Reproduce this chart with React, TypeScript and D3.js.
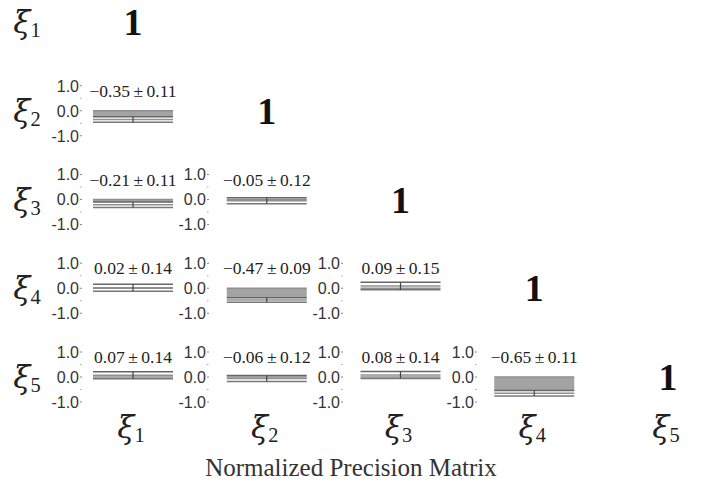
import React from "react";
import * as d3 from "d3";

// ---- data ----
const variableIndex = [1, 2, 3, 4, 5];
const pairRow = [2, 3, 3, 4, 4, 4, 5, 5, 5, 5];
const pairCol = [1, 1, 2, 1, 2, 3, 1, 2, 3, 4];
const pairMean = [-0.35, -0.21, -0.05, 0.02, -0.47, 0.09, 0.07, -0.06, 0.08, -0.65];
const pairStd = [0.11, 0.11, 0.12, 0.14, 0.09, 0.15, 0.14, 0.12, 0.14, 0.11];
const tickValues = [1, 0, -1];
const tickLabels = ["1.0", "0.0", "-1.0"];
const minorTicks = [0.5, -0.5];
const diagonalLabel = "1";
const title = "Normalized Precision Matrix";

// ---- layout ----
const W = 704;
const H = 489;
const colCenter = d3.scaleLinear().domain([1, 5]).range([133, 668]);
const rowZero = d3.scaleLinear().domain([1, 5]).range([22, 377]);
const axisRight = [83, 210, 344, 478];
const barHalf = 40;
const cellHalfH = 25;
const fmt = d3.format(".2f");

function Xi({ x, y, i, size }: { x: number; y: number; i: number; size: number }) {
  return (
    <text x={x} y={y} textAnchor="middle" fill="#222" style={{ fontFamily: "'DejaVu Serif', serif" }}>
      <tspan fontSize={size} fontStyle="italic">ξ</tspan>
      <tspan fontSize={size * 0.66} dy={size * 0.14} style={{ fontFamily: "'Liberation Serif', serif" }}>{i}</tspan>
    </text>
  );
}

export default function App() {
  const cells = pairMean.map((m, k) => {
    const r = pairRow[k];
    const c = pairCol[k];
    const s = pairStd[k];
    const z = rowZero(r);
    const y = d3.scaleLinear().domain([-1, 1]).range([z + cellHalfH, z - cellHalfH]);
    const cx = colCenter(c);
    const x0 = cx - barHalf;
    const x1 = cx + barHalf;
    const hi = m + s;
    const lo = m - s;
    const fillEnd = Math.min(0, hi);
    const ax = axisRight[c - 1];
    return (
      <g key={k}>
        {tickValues.map((t, j) => (
          <g key={j}>
            <text
              x={ax - 4}
              y={y(t)}
              dy="0.36em"
              textAnchor="end"
              fontSize={16}
              fill="#333"
              style={{ fontFamily: "'Liberation Sans', Arial, sans-serif" }}
            >
              {tickLabels[j]}
            </text>
            <line x1={ax - 3} x2={ax - 1} y1={y(t)} y2={y(t)} stroke="#888" strokeWidth={1} />
          </g>
        ))}
        {minorTicks.map((t, j) => (
          <line key={"m" + j} x1={ax - 3} x2={ax - 1.5} y1={y(t)} y2={y(t)} stroke="#aaa" strokeWidth={1} />
        ))}
        {fillEnd < 0 && (
          <rect x={x0} y={y(0)} width={x1 - x0} height={y(fillEnd) - y(0)} fill="#a3a3a3" />
        )}
        <line x1={x0} x2={x1} y1={y(0)} y2={y(0)} stroke="#8f8f8f" strokeWidth={1.3} />
        <line x1={x0} x2={x1} y1={y(hi)} y2={y(hi)} stroke="#666" strokeWidth={1.5} />
        <line x1={x0} x2={x1} y1={y(m)} y2={y(m)} stroke="#909090" strokeWidth={1.3} />
        <line x1={x0} x2={x1} y1={y(lo)} y2={y(lo)} stroke="#777" strokeWidth={1.3} />
        <line x1={cx} x2={cx} y1={y(hi)} y2={y(lo)} stroke="#444" strokeWidth={1.2} />
        <text
          x={cx}
          y={z - 14}
          textAnchor="middle"
          fontSize={17.5}
          fill="#222"
          style={{ fontFamily: "'Liberation Serif', serif" }}
        >
          {fmt(m)}{"\u2009±\u2009"}{fmt(s)}
        </text>
      </g>
    );
  });

  return (
    <svg width={W} height={H} style={{ position: "absolute", left: 0, top: 0, background: "#fff" }}>
      <rect width={W} height={H} fill="#fff" />
      {variableIndex.map((i) => (
        <Xi key={"r" + i} x={27} y={rowZero(i) + 11} i={i} size={31} />
      ))}
      {variableIndex.map((i) => (
        <text
          key={"d" + i}
          x={colCenter(i)}
          y={rowZero(i) + 13}
          textAnchor="middle"
          fontSize={38}
          fontWeight="bold"
          fill="#111"
          style={{ fontFamily: "'Liberation Serif', serif" }}
        >
          {diagonalLabel}
        </text>
      ))}
      {cells}
      {variableIndex.map((i) => (
        <Xi key={"c" + i} x={colCenter(i) - 2} y={438} i={i} size={31} />
      ))}
      <text
        x={351}
        y={476}
        textAnchor="middle"
        fontSize={25}
        fill="#333"
        style={{ fontFamily: "'Liberation Serif', serif" }}
      >
        {title}
      </text>
    </svg>
  );
}
